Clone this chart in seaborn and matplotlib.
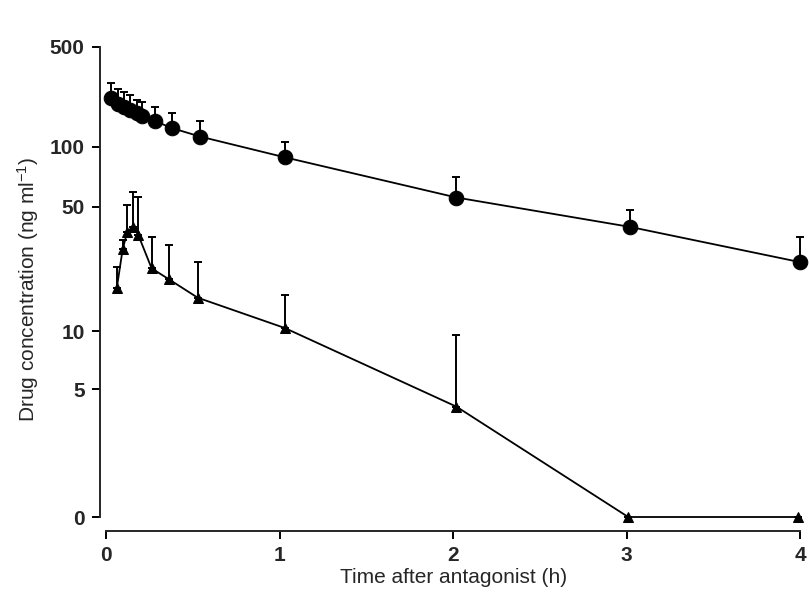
import numpy as np
import pandas as pd
import matplotlib
matplotlib.use("Agg")
import matplotlib.pyplot as plt
import seaborn as sns

# ---- data ----
t_circle = [0.029, 0.069, 0.106, 0.141, 0.176, 0.210, 0.282, 0.378, 0.541, 1.03, 2.02, 3.02, 4.0]
c_circle = [219.6, 199.3, 189.9, 180.9, 172.3, 164.2, 151.4, 135.3, 117.9, 88.5, 55.6, 38.5, 24.4]
c_circle_top = [278.4, 252.6, 240.7, 230.5, 212.6, 204.8, 190.8, 173.1, 152.2, 108.4, 70.2, 47.9, 33.7]

t_tri = [0.062, 0.096, 0.123, 0.157, 0.186, 0.263, 0.364, 0.528, 1.03, 2.02, 3.01, 3.99]
c_tri = [17.4, 28.8, 36.2, 38.6, 34.7, 22.5, 19.5, 15.4, 10.4, 4.32, 0.0, 0.0]
c_tri_top = [23.0, 32.5, 50.7, 59.5, 55.8, 33.7, 30.5, 24.5, 15.9, 9.5, 0.0, 0.0]

x_ticks = [0, 1, 2, 3, 4]
y_ticks = [0, 5, 10, 50, 100, 500]
y_ticklabels = ["0", "5", "10", "50", "100", "500"]

# ---- axis transform mimicking the printed (broken) log axis ----
KV = np.log10([5, 10, 50, 100, 500])
KP = -np.array([389.3, 331.0, 206.7, 146.7, 47.0])
P0 = -517.0


def fwd(y):
    y = np.asarray(y, dtype=float)
    safe = np.log10(np.clip(y, 5, 5000))
    hi = np.interp(safe, KV, KP)
    lo = P0 + y * (KP[0] - P0) / 5.0
    return np.where(y >= 5, hi, lo)


def inv(p):
    p = np.asarray(p, dtype=float)
    hi = 10 ** np.interp(p, KP, KV)
    lo = (p - P0) * 5.0 / (KP[0] - P0)
    return np.where(p >= KP[0], hi, lo)


sns.set_style("ticks")
plt.rcParams["font.family"] = ["Liberation Sans", "DejaVu Sans"]
plt.rcParams["mathtext.fontset"] = "custom"
plt.rcParams["mathtext.rm"] = "Liberation Sans"
plt.rcParams["mathtext.it"] = "Liberation Sans:italic"

fig = plt.figure(figsize=(8.09, 5.95), dpi=100)
ax = fig.add_axes([100 / 809, 64 / 595, 708 / 809, 484 / 595])
ax.set_yscale("function", functions=(fwd, inv))

df_c = pd.DataFrame({"t": t_circle, "c": c_circle, "top": c_circle_top})
df_t = pd.DataFrame({"t": t_tri, "c": c_tri, "top": c_tri_top})

for df in (df_c, df_t):
    up = (df["top"] - df["c"]).clip(lower=0)
    ax.errorbar(df["t"], df["c"], yerr=[np.zeros(len(df)), up], fmt="none",
                ecolor="black", elinewidth=1.4, capsize=3, capthick=1.4, zorder=1)

sns.lineplot(data=df_c, x="t", y="c", ax=ax, color="black", marker="o",
             markersize=10.5, linewidth=1.3, markeredgecolor="black", sort=False,
             zorder=3, clip_on=False)
sns.lineplot(data=df_t, x="t", y="c", ax=ax, color="black", marker="^",
             markersize=7.5, linewidth=1.3, markeredgecolor="black", sort=False,
             zorder=3, clip_on=False)

ax.set_xlim(-6 / 173.5, 4 + 8 / 173.5)
ax.set_ylim(-0.548, 500)
ax.set_xticks(x_ticks)
ax.set_xticklabels([str(v) for v in x_ticks])
ax.set_yticks(y_ticks)
ax.set_yticklabels(y_ticklabels)
ax.minorticks_off()

for s in ("top", "right"):
    ax.spines[s].set_visible(False)
ax.spines["left"].set_bounds(0, 500)
ax.spines["bottom"].set_bounds(0, 4)
ax.spines["left"].set_linewidth(1.4)
ax.spines["bottom"].set_linewidth(1.4)

ax.tick_params(axis="both", length=6, width=1.4, color="black", pad=5,
               labelsize=15)
for lab in ax.get_xticklabels() + ax.get_yticklabels():
    lab.set_fontweight("bold")

ax.set_xlabel("Time after antagonist (h)", fontsize=15, labelpad=2)
ax.set_ylabel("Drug concentration (ng ml$^{-1}$)", fontsize=15, labelpad=6)

fig.savefig("out.png", dpi=100)
